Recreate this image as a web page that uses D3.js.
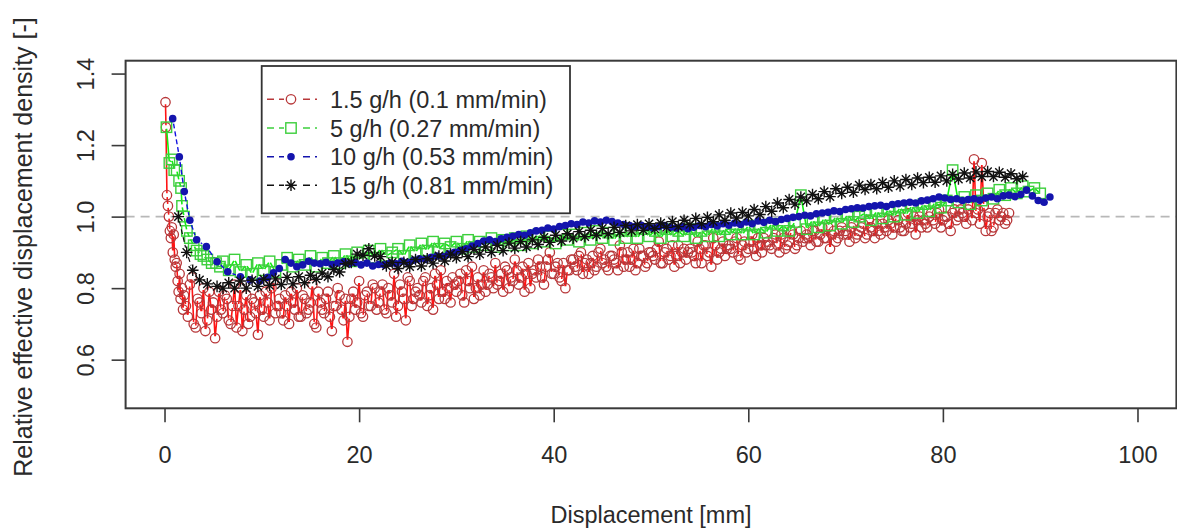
<!DOCTYPE html>
<html><head><meta charset="utf-8">
<script src="https://cdn.jsdelivr.net/npm/d3@7"></script>
<style>
body{margin:0;background:#fff}
svg{display:block}
text{font-family:"Liberation Sans",Arial,sans-serif;fill:#2a2a2a}
</style>
</head><body>
<svg id="chart" width="1177" height="531"></svg>
<script>
// ---------- data ----------
const xTicks = [0, 20, 40, 60, 80, 100];
const yTicks = [0.6, 0.8, 1.0, 1.2, 1.4];
const yTickLabels = ["0.6", "0.8", "1.0", "1.2", "1.4"];
const seriesNames = ["1.5 g/h (0.1 mm/min)", "5 g/h (0.27 mm/min)", "10 g/h (0.53 mm/min)", "15 g/h (0.81 mm/min)"];
const xLabel = "Displacement [mm]";
const yLabel = "Relative effective displacement density [-]";
const refValue = 1.0;

// 1.5 g/h : two interleaved sets of readings
const xRed = [0.1,0.15,0.25,0.35,0.45,0.55,0.65,0.75,0.85,0.95,1.05,1.15,1.25,1.35,1.45,1.55,1.65,1.8,1.9,
2,2.4,2.8,3.2,3.6,4,4.4,4.8,5.2,5.6,
6,6.4,6.8,7.2,7.6,8,8.4,8.8,9.2,9.6,
10,10.4,10.8,11.2,11.6,12,12.4,12.8,13.2,13.6,
14,14.4,14.8,15.2,15.6,16,16.4,16.8,17.2,17.6,
18,18.4,18.8,19.2,19.6,20,20.4,20.8,21.2,21.6,
22,22.4,22.8,23.2,23.6,24,24.4,24.8,25.2,25.6,
26,26.4,26.8,27.2,27.6,28,28.4,28.8,29.2,29.6,
30,30.4,30.8,31.2,31.6,32,32.4,32.8,33.2,33.6,
34,34.4,34.8,35.2,35.6,36,36.4,36.8,37.2,37.6,
38,38.4,38.8,39.2,39.6,40,40.4,40.8,41.2,41.6,
42,42.4,42.8,43.2,43.6,44,44.4,44.8,45.2,45.6,
46,46.4,46.8,47.2,47.6,48,48.4,48.8,49.2,49.6,
50,50.4,50.8,51.2,51.6,52,52.4,52.8,53.2,53.6,
54,54.4,54.8,55.2,55.6,56,56.4,56.8,57.2,57.6,
58,58.4,58.8,59.2,59.6,60,60.4,60.8,61.2,61.6,
62,62.4,62.8,63.2,63.6,64,64.4,64.8,65.2,65.6,
66,66.4,66.8,67.2,67.6,68,68.4,68.8,69.2,69.6,
70,70.4,70.8,71.2,71.6,72,72.4,72.8,73.2,73.6,
74,74.4,74.8,75.2,75.6,76,76.4,76.8,77.2,77.6,
78,78.4,78.8,79.2,79.6,80,80.4,80.8,81.2,81.6,
82,82.4,82.8,83.2,83.6,84,84.4,84.8,85.2,85.6,
86,86.4,86.8];
const yRed = [1.32,1.25,1.06,1.03,1.00,0.96,0.94,0.97,0.90,0.95,0.88,0.86,0.87,0.82,0.79,0.84,0.77,0.80,0.74,
0.78,0.72,0.83,0.69,0.76,0.80,0.71,0.74,0.66,0.79,
0.73,0.77,0.70,0.81,0.75,0.68,0.78,0.72,0.76,0.67,
0.74,0.79,0.71,0.82,0.75,0.73,0.78,0.70,0.76,0.80,
0.72,0.77,0.74,0.81,0.69,0.76,0.73,0.79,0.68,0.75,
0.78,0.71,0.65,0.77,0.74,0.82,0.72,0.79,0.75,0.80,
0.76,0.81,0.73,0.78,0.84,0.75,0.79,0.71,0.82,0.77,
0.80,0.76,0.83,0.78,0.74,0.81,0.85,0.77,0.80,0.83,
0.79,0.84,0.76,0.82,0.86,0.80,0.78,0.85,0.81,0.83,
0.87,0.82,0.79,0.85,0.83,0.88,0.81,0.86,0.84,0.80,
0.85,0.88,0.83,0.86,0.90,0.84,0.87,0.82,0.80,0.85,
0.88,0.85,0.90,0.87,0.84,0.89,0.86,0.91,0.88,0.85,
0.89,0.87,0.92,0.86,0.90,0.88,0.85,0.91,0.89,0.87,
0.90,0.88,0.93,0.87,0.91,0.89,0.86,0.92,0.90,0.88,
0.91,0.89,0.93,0.87,0.92,0.90,0.94,0.88,0.91,0.89,
0.92,0.90,0.94,0.88,0.93,0.91,0.95,0.89,0.92,0.94,
0.93,0.91,0.95,0.90,0.94,0.92,0.96,0.91,0.94,0.93,
0.95,0.92,0.96,0.93,0.97,0.94,0.91,0.96,0.94,0.97,
0.96,0.93,0.98,0.95,0.97,0.94,0.99,0.96,0.98,0.95,
0.97,0.99,0.95,1.00,0.97,0.96,1.01,0.98,0.95,1.00,
0.99,0.97,1.01,0.98,1.02,0.99,1.00,0.96,1.02,1.00,
1.01,0.98,1.03,1.16,1.02,1.15,0.96,1.01,0.97,1.02,
1.00,0.98,1.01];
const xRedB = [2.2,2.6,3,3.4,3.8,4.2,4.6,5,5.4,5.8,
6.2,6.6,7,7.4,7.8,8.2,8.6,9,9.4,9.8,
10.2,10.6,11,11.4,11.8,12.2,12.6,13,13.4,13.8,
14.2,14.6,15,15.4,15.8,16.2,16.6,17,17.4,17.8,
18.2,18.6,19,19.4,19.8,20.2,20.6,21,21.4,21.8,
22.2,22.6,23,23.4,23.8,24.2,24.6,25,25.4,25.8,
26.2,26.6,27,27.4,27.8,28.2,28.6,29,29.4,29.8,
30.2,30.6,31,31.4,31.8,32.2,32.6,33,33.4,33.8,
34.2,34.6,35,35.4,35.8,36.2,36.6,37,37.4,37.8,
38.2,38.6,39,39.4,39.8,40.2,40.6,41,41.4,41.8,
42.2,42.6,43,43.4,43.8,44.2,44.6,45,45.4,45.8,
46.2,46.6,47,47.4,47.8,48.2,48.6,49,49.4,49.8,
50.2,50.6,51,51.4,51.8,52.2,52.6,53,53.4,53.8,
54.2,54.6,55,55.4,55.8,56.2,56.6,57,57.4,57.8,
58.2,58.6,59,59.4,59.8,60.2,60.6,61,61.4,61.8,
62.2,62.6,63,63.4,63.8,64.2,64.6,65,65.4,65.8,
66.2,66.6,67,67.4,67.8,68.2,68.6,69,69.4,69.8,
70.2,70.6,71,71.4,71.8,72.2,72.6,73,73.4,73.8,
74.2,74.6,75,75.4,75.8,76.2,76.6,77,77.4,77.8,
78.2,78.6,79,79.4,79.8,80.2,80.6,81,81.4,81.8,
82.2,82.6,83,83.4,83.8,84.2,84.6,85,85.4,85.8,
86.2,86.6];
const yRedB = [0.75,0.81,0.70,0.77,0.73,0.68,0.79,0.76,0.72,0.74,
0.78,0.71,0.75,0.69,0.80,0.74,0.70,0.77,0.73,0.78,
0.72,0.76,0.80,0.73,0.77,0.71,0.75,0.79,0.74,0.72,
0.78,0.73,0.76,0.70,0.79,0.74,0.77,0.72,0.75,0.80,
0.74,0.77,0.72,0.79,0.76,0.73,0.78,0.75,0.81,0.74,
0.79,0.74,0.80,0.76,0.72,0.81,0.77,0.83,0.75,0.79,
0.78,0.82,0.75,0.80,0.84,0.77,0.79,0.82,0.76,0.81,
0.82,0.78,0.85,0.80,0.77,0.83,0.81,0.79,0.84,0.80,
0.81,0.84,0.86,0.80,0.82,0.85,0.83,0.79,0.87,0.84,
0.83,0.86,0.81,0.88,0.84,0.86,0.83,0.87,0.85,0.88,
0.86,0.89,0.84,0.88,0.87,0.85,0.90,0.87,0.86,0.89,
0.88,0.85,0.90,0.88,0.86,0.91,0.87,0.89,0.86,0.90,
0.89,0.91,0.87,0.90,0.88,0.92,0.89,0.87,0.91,0.90,
0.90,0.87,0.91,0.92,0.89,0.86,0.92,0.90,0.93,0.91,
0.91,0.93,0.89,0.92,0.90,0.93,0.91,0.94,0.90,0.92,
0.92,0.94,0.92,0.95,0.91,0.93,0.95,0.92,0.96,0.94,
0.94,0.96,0.93,0.95,0.94,0.97,0.95,0.93,0.96,0.95,
0.95,0.97,0.94,0.96,0.98,0.95,0.97,0.94,0.96,0.98,
0.96,0.98,0.97,0.99,0.96,0.98,0.97,1.00,0.99,0.97,
0.98,1.00,0.99,1.01,0.97,1.00,0.98,1.01,0.99,1.02,
1.00,1.02,0.99,1.01,0.98,1.03,1.00,0.96,1.01,0.99,
1.01,0.99];

const xGreen = [0.2,0.5,0.75,1.0,1.25,1.5,1.7,1.8,2.0,2.3,2.6,3.0,3.3,3.7,4.0,4.4,4.85,5.3,5.7,
6,6.6,7.2,7.8,8.4,9,9.6,10.2,10.8,11.4,
12,12.6,13.2,13.8,14.4,15,15.6,16.2,16.8,17.4,
18,18.6,19.2,19.8,20.4,21,21.6,22.2,22.8,23.4,
24,24.6,25.2,25.8,26.4,27,27.6,28.2,28.8,29.4,
30,30.6,31.2,31.8,32.4,33,33.6,34.2,34.8,35.4,
36,36.6,37.2,37.8,38.4,39,39.6,40.2,40.8,41.4,
42,42.6,43.2,43.8,44.4,45,45.6,46.2,46.8,47.4,
48,48.6,49.2,49.8,50.4,51,51.6,52.2,52.8,53.4,
54,54.6,55.2,55.8,56.4,57,57.6,58.2,58.8,59.4,
60,60.6,61.2,61.8,62.4,63,63.6,64.2,64.8,65.4,
66,66.6,67.2,67.8,68.4,69,69.6,70.2,70.8,71.4,
72,72.6,73.2,73.8,74.4,75,75.6,76.2,76.8,77.4,
78,78.6,79.2,79.8,80.4,81,81.6,82.2,82.8,83.4,
84,84.6,85.2,85.8,86.4,87,87.6,88.2,88.8,89.4,
90];
const yGreen = [1.25,1.15,1.16,1.13,1.13,1.10,1.08,1.03,1.00,0.96,0.94,0.92,0.905,0.895,0.89,0.88,0.87,0.87,0.86,
0.875,0.85,0.88,0.845,0.865,0.84,0.87,0.85,0.875,0.845,
0.865,0.885,0.86,0.88,0.865,0.89,0.86,0.885,0.87,0.89,
0.87,0.895,0.875,0.9,0.88,0.905,0.885,0.91,0.89,0.9,
0.91,0.89,0.92,0.9,0.925,0.905,0.93,0.91,0.925,0.915,
0.93,0.91,0.935,0.915,0.93,0.92,0.94,0.915,0.935,0.92,
0.94,0.92,0.945,0.925,0.95,0.93,0.945,0.925,0.95,0.935,
0.95,0.93,0.955,0.935,0.96,0.94,0.955,0.935,0.96,0.94,
0.96,0.94,0.965,0.945,0.96,0.94,0.965,0.945,0.96,0.945,
0.965,0.94,0.96,0.945,0.97,0.945,0.965,0.95,0.97,0.95,
0.975,0.95,0.97,0.955,0.98,0.96,0.975,0.96,0.985,1.06,
0.965,0.99,0.97,0.995,0.975,1.0,0.98,1.005,0.985,1.0,
1.01,0.99,1.015,0.995,1.02,1.0,1.025,1.005,1.03,1.01,
1.035,1.015,1.04,1.025,1.045,1.13,1.04,1.055,1.035,1.06,
1.045,1.065,1.05,1.075,1.06,1.08,1.065,1.085,1.07,1.08,
1.065];

const xBlue = [0.84,1.52,2.03,2.6,3.3,4.3,5.4,6.5,7.8,8.8,9.8,
10.6,11.2,11.8,12.4,13,13.6,14.2,14.8,15.4,16,
16.6,17.2,17.8,18.4,19,19.6,20.2,20.8,21.4,22,
22.6,23.2,23.8,24.4,25,25.6,26.2,26.8,27.4,28,
28.6,29.2,29.8,30.4,31,31.6,32.2,32.8,33.4,34,
34.6,35.2,35.8,36.4,37,37.6,38.2,38.8,39.4,40,
40.6,41.2,41.8,42.4,43,43.6,44.2,44.8,45.4,46,
46.6,47.2,47.8,48.4,49,49.6,50.2,50.8,51.4,52,
52.6,53.2,53.8,54.4,55,55.6,56.2,56.8,57.4,58,
58.6,59.2,59.8,60.4,61,61.6,62.2,62.8,63.4,64,
64.6,65.2,65.8,66.4,67,67.6,68.2,68.8,69.4,70,
70.6,71.2,71.8,72.4,73,73.6,74.2,74.8,75.4,76,
76.6,77.2,77.8,78.4,79,79.6,80.2,80.8,81.4,82,
82.6,83.2,83.8,84.4,85,85.6,86.2,86.8,87.4,88,
88.6,89.2,89.8,90.4,91];
const yBlue = [1.274,1.167,1.07,0.99,0.935,0.916,0.874,0.846,0.832,0.823,0.82,
0.83,0.843,0.855,0.88,0.87,0.86,0.865,0.875,0.87,0.868,
0.872,0.866,0.87,0.874,0.868,0.872,0.865,0.87,0.862,0.866,
0.865,0.87,0.868,0.875,0.872,0.878,0.882,0.88,0.886,0.89,
0.888,0.895,0.9,0.905,0.91,0.918,0.925,0.932,0.935,0.93,
0.938,0.942,0.945,0.95,0.948,0.955,0.96,0.962,0.968,0.965,
0.972,0.975,0.98,0.978,0.985,0.982,0.988,0.985,0.99,0.986,
0.982,0.978,0.975,0.972,0.976,0.97,0.968,0.972,0.975,0.97,
0.968,0.972,0.966,0.97,0.975,0.972,0.978,0.974,0.98,0.976,
0.982,0.978,0.985,0.98,0.988,0.984,0.99,0.986,0.992,0.995,
0.998,1.0,1.004,1.002,1.008,1.01,1.012,1.016,1.014,1.02,
1.022,1.025,1.024,1.028,1.03,1.032,1.028,1.034,1.036,1.038,
1.04,1.038,1.044,1.046,1.05,1.055,1.052,1.048,1.05,1.045,
1.048,1.05,1.046,1.052,1.055,1.05,1.058,1.06,1.056,1.062,
1.074,1.058,1.045,1.04,1.055];

const xBlack = [1.42,2.28,2.9,3.6,4.4,5.4,6.0,
6.6,7.2,7.8,8.4,9,9.6,10.2,10.8,11.4,12,
12.6,13.2,13.8,14.4,15,15.6,16.2,16.8,17.4,18,
18.6,19.2,19.8,20.4,21,21.6,22.2,22.8,23.4,24,
24.6,25.2,25.8,26.4,27,27.6,28.2,28.8,29.4,30,
30.6,31.2,31.8,32.4,33,33.6,34.2,34.8,35.4,36,
36.6,37.2,37.8,38.4,39,39.6,40.2,40.8,41.4,42,
42.6,43.2,43.8,44.4,45,45.6,46.2,46.8,47.4,48,
48.6,49.2,49.8,50.4,51,51.6,52.2,52.8,53.4,54,
54.6,55.2,55.8,56.4,57,57.6,58.2,58.8,59.4,60,
60.6,61.2,61.8,62.4,63,63.6,64.2,64.8,65.4,66,
66.6,67.2,67.8,68.4,69,69.6,70.2,70.8,71.4,72,
72.6,73.2,73.8,74.4,75,75.6,76.2,76.8,77.4,78,
78.6,79.2,79.8,80.4,81,81.6,82.2,82.8,83.4,84,
84.6,85.2,85.8,86.4,87,87.6,88.2];
const yBlack = [1.0,0.9,0.85,0.823,0.812,0.805,0.80,
0.815,0.80,0.82,0.80,0.822,0.805,0.825,0.808,0.826,0.81,
0.83,0.812,0.832,0.815,0.836,0.825,0.842,0.832,0.852,0.845,
0.868,0.872,0.895,0.892,0.91,0.89,0.888,0.862,0.872,0.855,
0.872,0.86,0.88,0.862,0.882,0.87,0.89,0.876,0.895,0.885,
0.902,0.888,0.908,0.895,0.915,0.9,0.92,0.905,0.926,0.912,
0.93,0.915,0.935,0.922,0.942,0.928,0.948,0.932,0.952,0.94,
0.958,0.944,0.962,0.948,0.967,0.952,0.97,0.956,0.975,0.96,
0.978,0.962,0.98,0.966,0.982,0.97,0.986,0.972,0.99,0.978,
0.995,0.98,0.998,0.986,1.005,0.99,1.01,0.996,1.012,1.002,
1.02,1.006,1.028,1.015,1.038,1.025,1.048,1.035,1.055,1.044,
1.062,1.05,1.07,1.056,1.078,1.065,1.082,1.068,1.088,1.076,
1.09,1.078,1.095,1.082,1.1,1.086,1.104,1.09,1.108,1.095,
1.11,1.096,1.114,1.1,1.118,1.105,1.122,1.108,1.125,1.112,
1.126,1.112,1.124,1.11,1.12,1.106,1.112];

// ---------- layout ----------
const svg = d3.select("#chart");
const L = 125.6, R = 1176.4, T = 60.7, B = 408.3;
const x = d3.scaleLinear().domain([-4, 104]).range([L, R]);
const y = d3.scaleLinear().domain([0.464, 1.436]).range([B, T]);
const FS = 23.5;

const styles = [
  {pt: "#b8383a", ln: "#ff1414", shape: "circle", gap: 2, lw: 1.6, dash: null},
  {pt: "#3ccf3c", ln: "#10f010", shape: "square", gap: 1.5, lw: 1.6, dash: null},
  {pt: "#1414ad", ln: "#1010e0", shape: "dot", gap: 5, lw: 1.4, dash: "5,3"},
  {pt: "#111111", ln: "#111111", shape: "star", gap: 5, lw: 1.2, dash: "5,3"}
];
function pairs(xs, ys) { return xs.map((v, i) => [v, ys[i]]); }
const datasets = [
  pairs(xRed, yRed).concat(pairs(xRedB, yRedB)).sort((a, b) => a[0] - b[0]),
  pairs(xGreen, yGreen),
  pairs(xBlue, yBlue),
  pairs(xBlack, yBlack)
];

svg.append("defs").append("clipPath").attr("id", "clip")
  .append("rect").attr("x", L).attr("y", T).attr("width", R - L).attr("height", B - T);

// reference line
svg.append("line").attr("x1", L).attr("x2", R)
  .attr("y1", y(refValue)).attr("y2", y(refValue))
  .attr("stroke", "#b8b8b8").attr("stroke-width", 1.6).attr("stroke-dasharray", "9,6");

function drawShape(g, shape, cx, cy, st) {
  if (shape === "circle") {
    g.append("circle").attr("cx", cx).attr("cy", cy).attr("r", 4.7)
      .attr("fill", "none").attr("stroke", st.pt).attr("stroke-width", 1.3);
  } else if (shape === "square") {
    g.append("rect").attr("x", cx - 5.2).attr("y", cy - 5.2).attr("width", 10.4).attr("height", 10.4)
      .attr("fill", "none").attr("stroke", st.pt).attr("stroke-width", 1.4);
  } else if (shape === "dot") {
    g.append("circle").attr("cx", cx).attr("cy", cy).attr("r", 3.8).attr("fill", st.pt);
  } else {
    const s = 5.8, t = s * 0.707;
    g.append("path")
      .attr("d", `M${cx - s},${cy}H${cx + s}M${cx},${cy - s}V${cy + s}M${cx - t},${cy - t}L${cx + t},${cy + t}M${cx - t},${cy + t}L${cx + t},${cy - t}`)
      .attr("stroke", st.pt).attr("stroke-width", 1.4).attr("fill", "none");
  }
}

const plot = svg.append("g").attr("clip-path", "url(#clip)");
datasets.forEach((data, k) => {
  const st = styles[k];
  const pts = data.filter(d => d[1] != null).map(d => [x(d[0]), y(d[1])]);
  // type "b": line segments with small gaps around the points
  let d = "";
  for (let i = 1; i < pts.length; i++) {
    const [x1, y1] = pts[i - 1], [x2, y2] = pts[i];
    const len = Math.hypot(x2 - x1, y2 - y1);
    if (len > 2 * st.gap + 1) {
      const ux = (x2 - x1) / len, uy = (y2 - y1) / len;
      d += `M${x1 + ux * st.gap},${y1 + uy * st.gap}L${x2 - ux * st.gap},${y2 - uy * st.gap}`;
    }
  }
  const g = plot.append("g");
  const p = g.append("path").attr("d", d).attr("fill", "none").attr("stroke", st.ln)
    .attr("stroke-width", st.lw);
  if (st.dash) p.attr("stroke-dasharray", st.dash);
  pts.forEach(q => drawShape(g, st.shape, q[0], q[1], st));
});

// frame
svg.append("rect").attr("x", L).attr("y", T).attr("width", R - L).attr("height", B - T)
  .attr("fill", "none").attr("stroke", "#3a3a3a").attr("stroke-width", 2);

// axes
const ax = svg.append("g").attr("transform", `translate(0,${B})`)
  .call(d3.axisBottom(x).tickValues(xTicks).tickSize(14).tickSizeOuter(0).tickFormat(d3.format("d")));
ax.select(".domain").remove();
ax.selectAll(".tick line").attr("stroke", "#3a3a3a").attr("stroke-width", 1.6);
ax.selectAll(".tick text").attr("y", 55).attr("dy", "0").attr("font-size", FS)
  .attr("font-family", "Liberation Sans, Arial, sans-serif").attr("fill", "#2a2a2a");

const ay = svg.append("g").attr("transform", `translate(${L},0)`)
  .call(d3.axisLeft(y).tickValues(yTicks).tickSize(14).tickSizeOuter(0).tickFormat((d, i) => yTickLabels[i]));
ay.select(".domain").remove();
ay.selectAll(".tick line").attr("stroke", "#3a3a3a").attr("stroke-width", 1.6);
ay.selectAll(".tick text").attr("x", 0).attr("dy", "0").attr("text-anchor", "middle")
  .attr("transform", "translate(-31.5,0) rotate(-90)").attr("font-size", FS)
  .attr("font-family", "Liberation Sans, Arial, sans-serif").attr("fill", "#2a2a2a");

// axis titles
svg.append("text").attr("x", (L + R) / 2).attr("y", 523).attr("text-anchor", "middle")
  .attr("font-size", FS).text(xLabel);
svg.append("text").attr("transform", "translate(32,247) rotate(-90)")
  .attr("text-anchor", "middle").attr("font-size", 25).text(yLabel);

// legend
const lg = svg.append("g");
lg.append("rect").attr("x", 261.7).attr("y", 66).attr("width", 308.3).attr("height", 147.3)
  .attr("fill", "#fff").attr("stroke", "#333").attr("stroke-width", 1.8);
const rowY = [99.3, 128, 156.7, 185.3];
seriesNames.forEach((name, k) => {
  const st = styles[k], cy = rowY[k];
  lg.append("line").attr("x1", 267).attr("x2", 317).attr("y1", cy).attr("y2", cy)
    .attr("stroke", st.pt).attr("stroke-width", 1.4).attr("stroke-dasharray", "7,5");
  const sg = lg.append("g");
  sg.append("rect").attr("x", 284).attr("y", cy - 6.5).attr("width", 14).attr("height", 13).attr("fill", "#fff");
  drawShape(sg, st.shape, 291, cy, st);
  lg.append("text").attr("x", 330).attr("y", cy + 8.5).attr("font-size", FS).text(name);
});
</script>
</body></html>
